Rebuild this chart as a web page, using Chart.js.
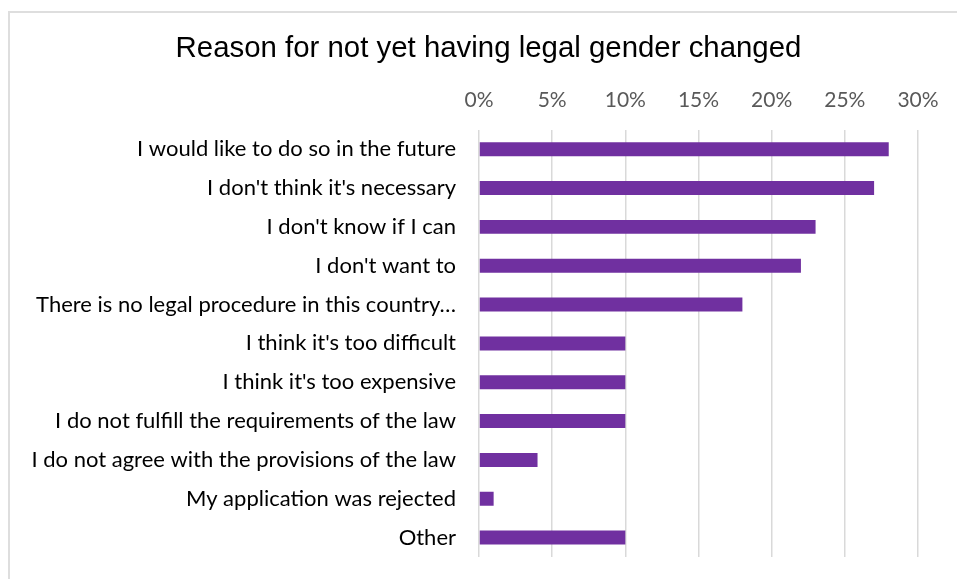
<!DOCTYPE html>
<html>
<head>
<meta charset="utf-8">
<script src="https://cdn.jsdelivr.net/npm/chart.js@4"></script>
<style>
  html, body { margin: 0; padding: 0; background: #fff; overflow: hidden; }
  #frame { position: absolute; left: 8px; top: 11px; width: 1000px; height: 1000px; border: 2px solid #dedede; box-sizing: border-box; }
  #wrap { position: absolute; left: 0; top: 0; width: 957px; height: 579px; }
</style>
</head>
<body>
<div id="frame"></div>
<div id="wrap"><canvas id="c" width="957" height="579"></canvas></div>
<script>
const chartTitle = "Reason for not yet having legal gender changed";
const categories = [
  "I would like to do so in the future",
  "I don't think it's necessary",
  "I don't know if I can",
  "I don't want to",
  "There is no legal procedure in this country…",
  "I think it's too difficult",
  "I think it's too expensive",
  "I do not fulfill the requirements of the law",
  "I do not agree with the provisions of the law",
  "My application was rejected",
  "Other"
];
const values = [28, 27, 23, 22, 18, 10, 10, 10, 4, 1, 10];
const xTicks = [0, 5, 10, 15, 20, 25, 30];

// Centre the title over the framed chart (frame starts at x=8)
const titleShift = {
  id: 'titleShift',
  afterLayout(chart) {
    if (chart.titleBlock) { chart.titleBlock.left += 49; }
  }
};

new Chart(document.getElementById('c'), {
  type: 'bar',
  data: {
    labels: categories,
    datasets: [{
      data: values,
      backgroundColor: '#7030A0',
      borderWidth: 0,
      barPercentage: 0.36,
      categoryPercentage: 1.0
    }]
  },
  plugins: [titleShift],
  options: {
    indexAxis: 'y',
    responsive: false,
    animation: false,
    layout: { padding: { left: 10, right: 39, top: 0, bottom: 22 } },
    plugins: {
      legend: { display: false },
      tooltip: { enabled: false },
      title: {
        display: true,
        text: chartTitle,
        color: '#000',
        font: { family: 'Liberation Sans, Arial, sans-serif', size: 29.4, weight: 'normal' },
        padding: { top: 31, bottom: 0 }
      }
    },
    scales: {
      x: {
        position: 'top',
        min: 0,
        max: 30,
        afterBuildTicks: (axis) => { axis.ticks = xTicks.map(v => ({ value: v })); },
        afterFit: (axis) => { axis.height = 63.5; },
        ticks: {
          callback: (v) => v + '%',
          color: '#595959',
          font: { family: 'Lato, sans-serif', size: 21 },
          padding: 17,
          maxRotation: 0
        },
        grid: { color: '#d9d9d9', lineWidth: 1.5, drawTicks: false },
        border: { display: false }
      },
      y: {
        afterFit: (axis) => { axis.width = 469; axis.paddingTop = 0; axis.paddingBottom = 0; },
        ticks: {
          color: '#000',
          font: { family: 'Lato, sans-serif', size: 22 },
          padding: 23,
          autoSkip: false
        },
        grid: { display: false, drawTicks: false },
        border: { display: false }
      }
    }
  }
});
</script>
</body>
</html>
